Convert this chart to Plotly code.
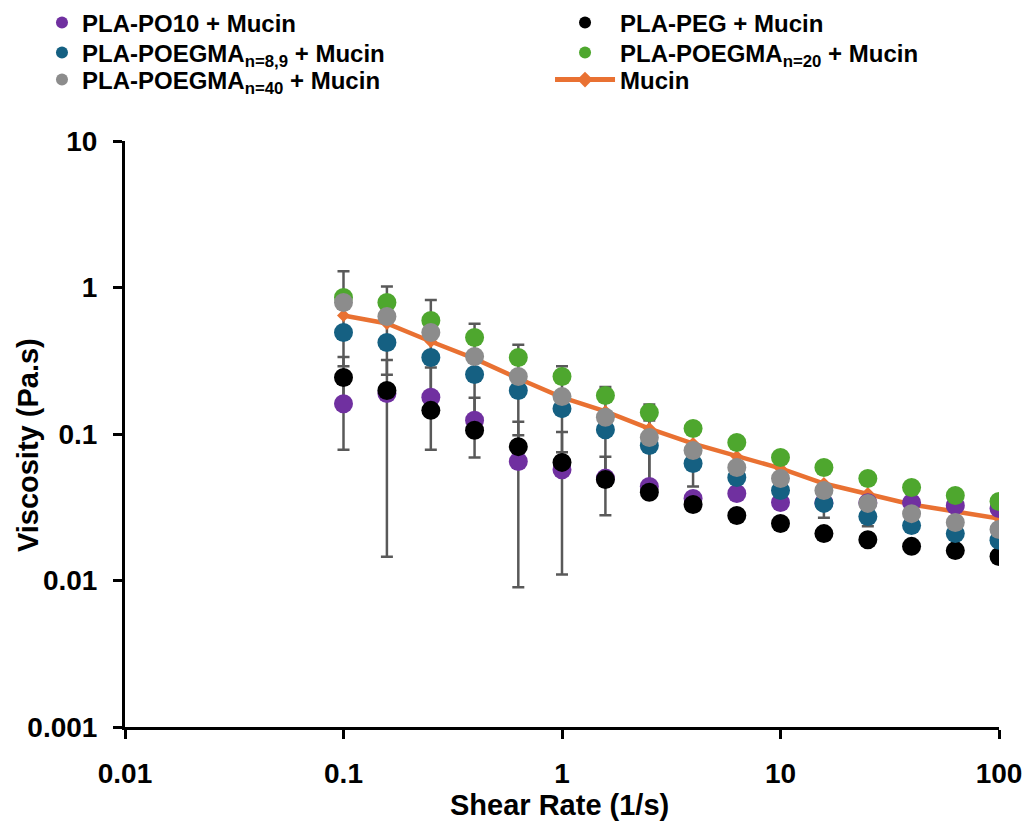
import plotly.graph_objects as go

# ---------------- data ----------------
shear_rate = [0.1, 0.158, 0.251, 0.398, 0.631, 1, 1.58, 2.51, 3.98, 6.31,
              10, 15.8, 25.1, 39.8, 63.1, 100]

pla_po10 = [0.161, 0.189, 0.178, 0.124, 0.065, 0.057, 0.050, 0.0438, 0.0363, 0.0393,
            0.0341, 0.034, 0.034, 0.034, 0.0325, 0.031]
pla_peg = [0.243, 0.198, 0.145, 0.106, 0.082, 0.064, 0.0489, 0.040, 0.033, 0.0278,
           0.0245, 0.0209, 0.0190, 0.0171, 0.0160, 0.0146]
poegma_8_9 = [0.493, 0.421, 0.333, 0.255, 0.198, 0.149, 0.107, 0.0835, 0.0629, 0.0505,
              0.0411, 0.0336, 0.0273, 0.0237, 0.0209, 0.0188]
poegma_20 = [0.855, 0.790, 0.595, 0.456, 0.333, 0.247, 0.183, 0.140, 0.109, 0.0875,
             0.0691, 0.0591, 0.0497, 0.0431, 0.0380, 0.0346]
poegma_40 = [0.790, 0.634, 0.493, 0.338, 0.247, 0.180, 0.130, 0.0947, 0.0771, 0.0591,
             0.0497, 0.0411, 0.0336, 0.0286, 0.0249, 0.0223]
mucin = [0.644, 0.568, 0.428, 0.327, 0.239, 0.178, 0.1425, 0.109, 0.086, 0.0702,
         0.0582, 0.0459, 0.0392, 0.033, 0.0296, 0.0265]

# error bars (+ / -)
po10_err_plus = [0.083, 0.131, 0.106, 0.053, 0.056, 0.046, 0, 0, 0, 0, 0, 0, 0, 0, 0, 0]
po10_err_minus = [0.083, 0.1745, 0.100, 0.055, 0.056, 0.046, 0, 0, 0, 0, 0, 0, 0, 0, 0, 0]
peg_err_plus = [0.092, 0, 0, 0, 0.016, 0.011, 0.021, 0, 0, 0, 0, 0, 0, 0, 0, 0]
peg_err_minus = [0.092, 0, 0, 0, 0.016, 0.011, 0.021, 0, 0, 0, 0, 0, 0, 0, 0, 0]
p89_err_plus = [0, 0, 0, 0, 0, 0, 0, 0.040, 0.019, 0, 0, 0.0068, 0.0038, 0, 0, 0]
p89_err_minus = [0, 0, 0, 0, 0, 0, 0, 0.040, 0.019, 0, 0, 0.0068, 0.0038, 0, 0, 0]
p40_err_plus = [0.50, 0.38, 0.33, 0.227, 0.16, 0.11, 0.079, 0.064, 0, 0, 0, 0, 0, 0, 0, 0]
p40_err_minus = [0.50, 0.38, 0.33, 0.227, 0.16, 0.11, 0.079, 0.05, 0, 0, 0, 0, 0, 0, 0, 0]

x_tickvals = [0.01, 0.1, 1, 10, 100]
x_ticktext = ["0.01", "0.1", "1", "10", "100"]
y_tickvals = [0.001, 0.01, 0.1, 1, 10]
y_ticktext = ["0.001", "0.01", "0.1", "1", "10"]

x_title = "Shear Rate (1/s)"
y_title = "Viscosity (Pa.s)"

names = {
    "po10": "PLA-PO10 + Mucin",
    "peg": "PLA-PEG + Mucin",
    "p89": "PLA-POEGMA<sub>n=8,9</sub> + Mucin",
    "p20": "PLA-POEGMA<sub>n=20</sub> + Mucin",
    "p40": "PLA-POEGMA<sub>n=40</sub> + Mucin",
    "mucin": "Mucin",
}

# ---------------- style ----------------
FONT = "Liberation Sans"
C_PURPLE = "#7030A0"
C_BLACK = "#000000"
C_TEAL = "#156082"
C_GREEN = "#4EA72E"
C_GRAY = "#8C8C8C"
C_ORANGE = "#E97132"
C_ERR = "#595959"
MSIZE = 19

fig = go.Figure()

# error bars drawn first (behind all markers)
for yv, ep, em in [(pla_po10, po10_err_plus, po10_err_minus),
                   (pla_peg, peg_err_plus, peg_err_minus),
                   (poegma_8_9, p89_err_plus, p89_err_minus),
                   (poegma_40, p40_err_plus, p40_err_minus)]:
    fig.add_trace(go.Scatter(
        x=shear_rate, y=yv, mode="markers",
        marker=dict(size=2, opacity=0),
        error_y=dict(type="data", symmetric=False, array=ep, arrayminus=em,
                     color=C_ERR, thickness=2.5, width=6),
        showlegend=False, hoverinfo="skip"))

# Mucin line
fig.add_trace(go.Scatter(
    x=shear_rate, y=mucin, mode="lines+markers", name=names["mucin"],
    line=dict(color=C_ORANGE, width=4.5),
    marker=dict(symbol="diamond", size=10, color=C_ORANGE),
    legend="legend6"))

series = [
    (pla_po10, names["po10"], C_PURPLE, "legend"),
    (pla_peg, names["peg"], C_BLACK, "legend2"),
    (poegma_8_9, names["p89"], C_TEAL, "legend3"),
    (poegma_20, names["p20"], C_GREEN, "legend4"),
    (poegma_40, names["p40"], C_GRAY, "legend5"),
]
for yv, nm, col, lg in series:
    fig.add_trace(go.Scatter(
        x=shear_rate, y=yv, mode="markers", name=nm,
        marker=dict(size=MSIZE, color=col, line=dict(width=0)),
        legend=lg))

tick_font = dict(family=FONT, size=28, color="black", weight="bold")
title_font = dict(family=FONT, size=29, color="black", weight="bold")
legend_font = dict(family=FONT, size=24, color="black", weight="bold")


def leg(x, y, itemwidth=30):
    return dict(x=x, xanchor="left", y=y, yanchor="middle",
                font=legend_font, bgcolor="rgba(0,0,0,0)",
                itemsizing="constant", orientation="v", itemwidth=itemwidth)


COL1, COL2 = -0.095, 0.4863
ROW1, ROW2, ROW3 = 1.2014, 1.1502, 1.1041

fig.update_layout(
    width=1029, height=823,
    margin=dict(l=125, r=30, t=141, b=96, autoexpand=False),
    paper_bgcolor="white", plot_bgcolor="white",
    font=dict(family=FONT, color="black"),
    xaxis=dict(
        type="log", range=[-2, 2],
        tickvals=x_tickvals, ticktext=x_ticktext,
        showgrid=False, zeroline=False,
        showline=True, linecolor="black", linewidth=3,
        ticks="outside", ticklen=9, tickwidth=3, tickcolor="black",
        tickfont=tick_font, ticklabelstandoff=10,
    ),
    yaxis=dict(
        type="log", range=[-3, 1],
        tickvals=y_tickvals, ticktext=y_ticktext,
        showgrid=False, zeroline=False,
        showline=True, linecolor="black", linewidth=3,
        ticks="outside", ticklen=9, tickwidth=3, tickcolor="black",
        tickfont=tick_font, ticklabelstandoff=10,
    ),
    legend=leg(COL1, ROW1),
    legend2=leg(COL2, ROW1, 60),
    legend3=leg(COL1, ROW2),
    legend4=leg(COL2, ROW2, 60),
    legend5=leg(COL1, ROW3),
    legend6=leg(COL2, ROW3, 60),
    annotations=[
        dict(text=y_title, textangle=-90,
             xref="paper", yref="paper", x=-0.111, y=0.481,
             xanchor="center", yanchor="middle", showarrow=False,
             font=title_font),
        dict(text=x_title,
             xref="paper", yref="paper", x=0.4977, y=-0.1331,
             xanchor="center", yanchor="middle", showarrow=False,
             font=title_font),
    ],
)

fig.write_html("out.html")
